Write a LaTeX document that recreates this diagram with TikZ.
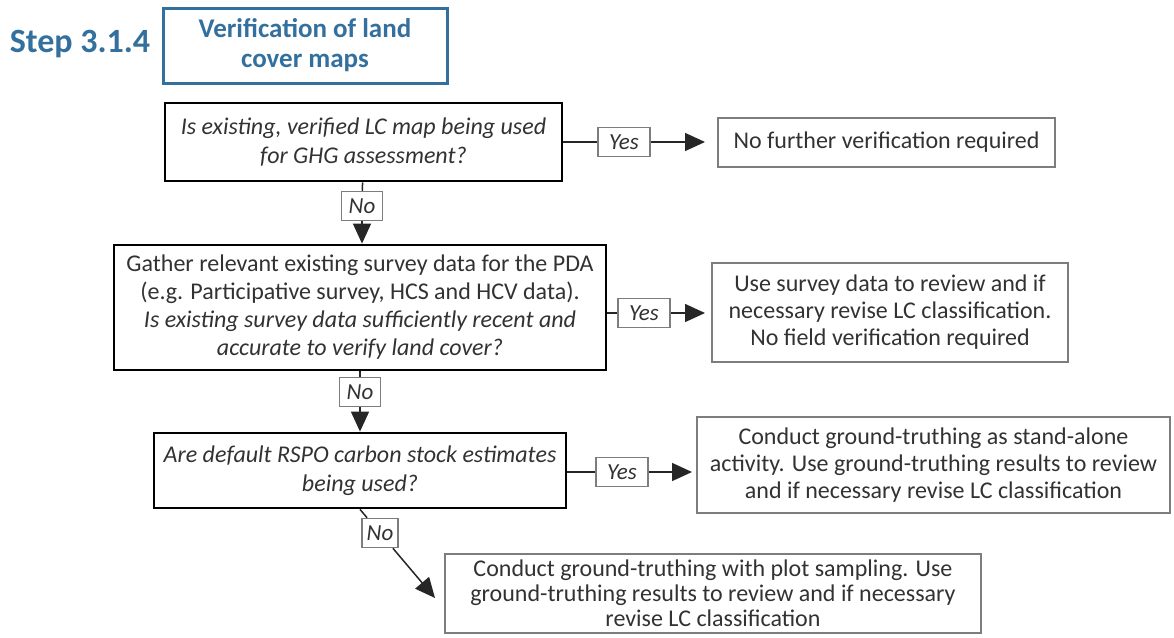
\documentclass[tikz,border=0pt]{standalone}
\usepackage{fontspec}
\setmainfont{Carlito}
\usetikzlibrary{positioning,arrows.meta}
\definecolor{stepblue}{RGB}{52,112,158}
\definecolor{boxgrey}{RGB}{125,125,125}
\definecolor{inkgrey}{RGB}{50,50,50}

\tikzset{
  steptxt/.style={text=stepblue, font=\fontsize{34}{40}\selectfont\bfseries, inner sep=0pt},
  headbox/.style={draw=stepblue, line width=3pt, text=stepblue, align=center,
    font=\fontsize{27}{30}\selectfont\bfseries, minimum width=284, minimum height=75, inner sep=0pt},
  qbox/.style={draw=black, line width=2.8pt, align=center, text=inkgrey, inner sep=0pt,
    font=\fontsize{24}{28}\selectfont},
  qital/.style={qbox, font=\fontsize{24}{29}\selectfont\itshape},
  rbox/.style={draw=boxgrey, line width=2pt, align=center, text=inkgrey, inner sep=0pt,
    font=\fontsize{24}{27}\selectfont},
  yesno/.style={draw=boxgrey, line width=1.5pt, fill=white, text=inkgrey, inner sep=0pt,
    font=\fontsize{23}{26}\selectfont\itshape, minimum height=29},
  link/.style={draw=black!85, line width=1.5pt},
  arr/.style={link, -{Triangle[length=20pt,width=18pt]}},
}

\begin{document}
\begin{tikzpicture}[x=1pt,y=-1pt]
\useasboundingbox (0,0) rectangle (1174,637);
% heading
\node[steptxt] (step) at (80,44) {Step 3.1.4};
\node[headbox] (head) at (305,45.5) {Verification of land\\cover maps};

% decision boxes
\node[qital, minimum width=397, minimum height=78] (q1) at (363.5,142)
  {Is existing, verified LC map being used\\for GHG assessment?};
\node[qbox, minimum width=492, minimum height=125] (q2) at (360,307.5)
  {Gather relevant existing survey data for the PDA\\(e.g. Participative survey, HCS and HCV data).\\
   \textit{Is existing survey data sufficiently recent and}\\\textit{accurate to verify land cover?}};
\node[qital, minimum width=412, minimum height=75] (q3) at (360,470.5)
  {Are default RSPO carbon stock estimates\\being used?};

% outcome boxes
\node[rbox, minimum width=337, minimum height=49] (r1) at (886.5,142)
  {No further verification required};
\node[rbox, minimum width=356, minimum height=99] (r2) at (890,312.5)
  {Use survey data to review and if\\necessary revise LC classification.\\No field verification required};
\node[rbox, minimum width=473, minimum height=96] (r3) at (933.5,465)
  {Conduct ground-truthing as stand-alone\\activity. Use ground-truthing results to review\\and if necessary revise LC classification};
\node[rbox, anchor=north west, minimum width=536, inner ysep=6pt,
  font=\fontsize{24}{25}\selectfont] (r4) at (444,553)
  {Conduct ground-truthing with plot sampling. Use\\ground-truthing results to review and if necessary\\revise LC classification};

% yes / no labels
\node[yesno, minimum width=52] (y1) at (624,142) {Yes};
\node[yesno, minimum width=52] (y2) at (644,313) {Yes};
\node[yesno, minimum width=52] (y3) at (622,472) {Yes};
\node[yesno, minimum width=41] (n1) at (362,206) {No};
\node[yesno, minimum width=41] (n2) at (360,392) {No};
\node[yesno, minimum width=36] (n3) at (380,533) {No};
\coordinate (t4) at (435,598);

% connectors
\draw[link] (q1) -- (y1);
\draw[arr, shorten >=12pt] (y1) -- (y1 -| r1.west);
\draw[link] (y2) -- (y2 -| q2.east);
\draw[arr, shorten >=6pt] (y2) -- (y2 -| r2.west);
\draw[link] (y3) -- (y3 -| q3.east);
\draw[arr, shorten >=4pt] (y3) -- (y3 -| r3.west);
\draw[link] (q1) -- (n1);
\draw[arr] (n1) -- (n1 |- q2.north);
\draw[link] (q2) -- (n2);
\draw[arr] (n2) -- (n2 |- q3.north);
\draw[link] (q3.south) -- (n3);
\draw[arr] (n3) -- (t4);
\end{tikzpicture}
\end{document}
